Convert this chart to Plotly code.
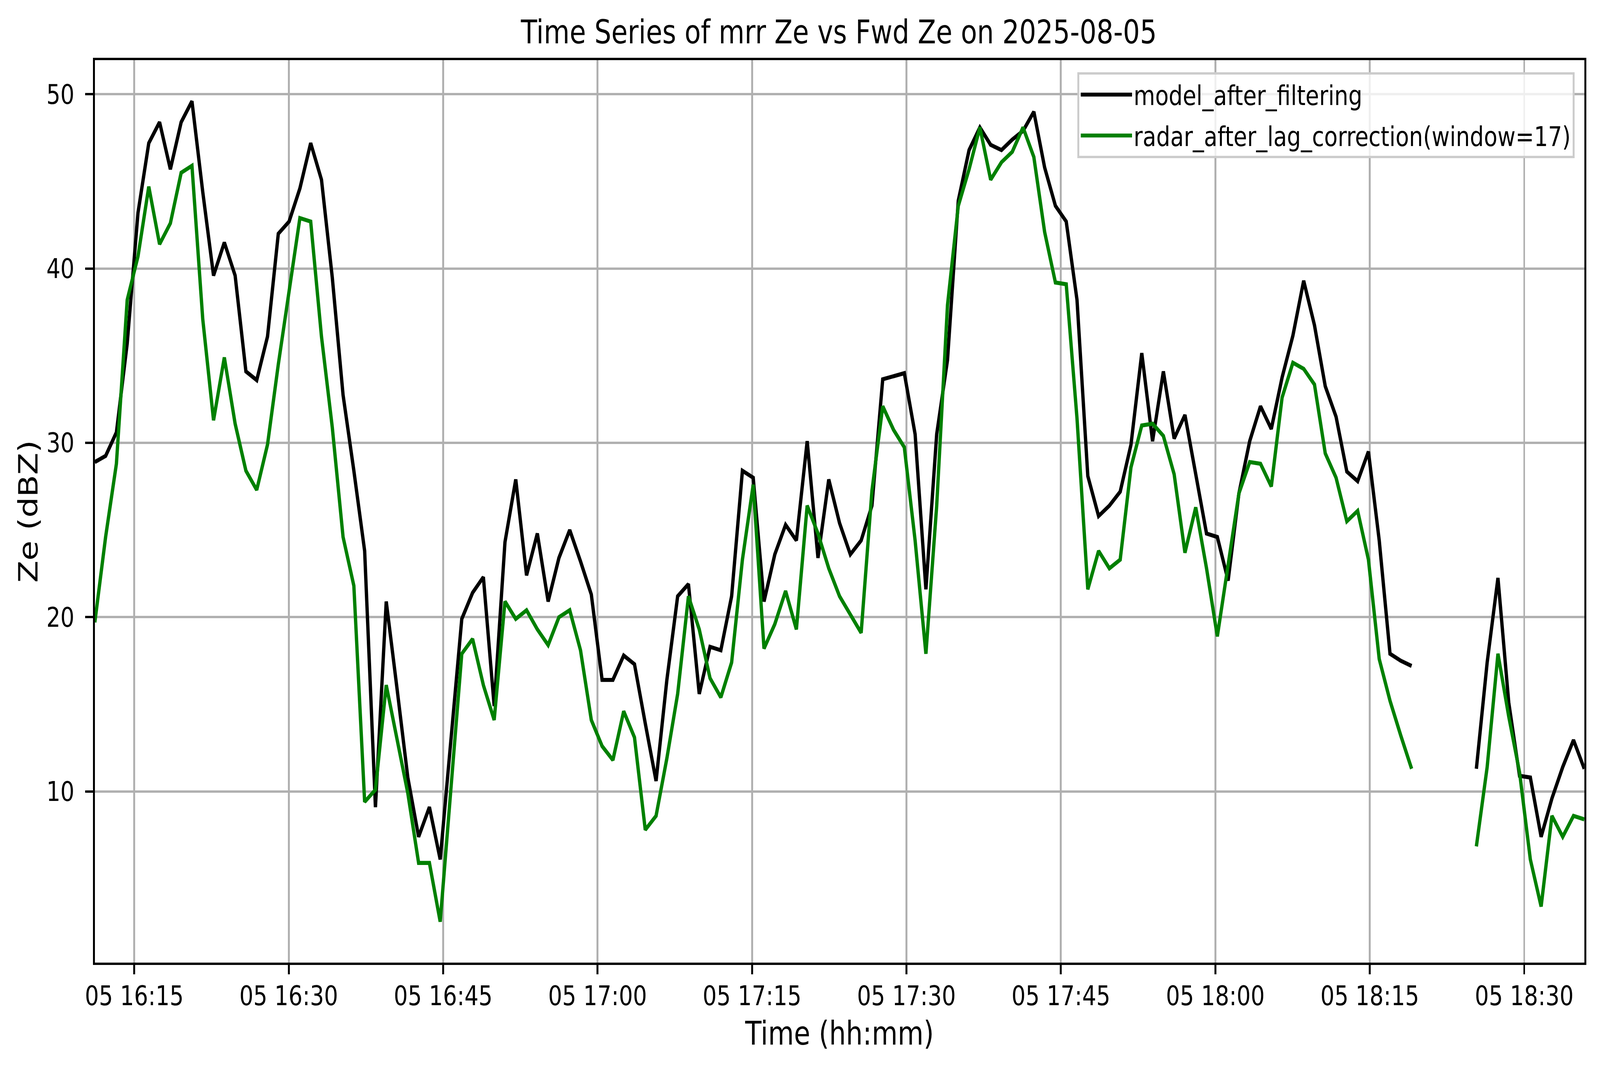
import pandas as pd
import plotly.graph_objects as go

# ---- data ----
start_time = "2025-08-05 16:11:10"
sample_step = "62900ms"
n_samples = 139

model_after_filtering = [
    28.9, 29.25, 30.6, 35.7, 43.2, 47.2, 48.4, 45.7, 48.4, 49.6,
    44.4, 39.6, 41.5, 39.6, 34.1, 33.6, 36.1, 42.0, 42.7, 44.6,
    47.2, 45.1, 39.5, 32.75, 28.4, 23.8, 9.1, 20.9, 15.9, 10.8,
    7.4, 9.1, 6.1, 13.1, 19.9, 21.4, 22.3, 14.9, 24.3, 27.9,
    22.4, 24.8, 20.9, 23.4, 25.0, 23.2, 21.3, 16.4, 16.4, 17.8,
    17.3, 13.9, 10.6, 16.4, 21.2, 21.9, 15.6, 18.3, 18.1, 21.2,
    28.4, 28.0, 20.9, 23.6, 25.3, 24.4, 30.1, 23.4, 27.9, 25.4,
    23.6, 24.4, 26.4, 33.65, 33.8, 34.0, 30.5, 21.6, 30.5, 34.75,
    43.9, 46.8, 48.1, 47.1, 46.8, 47.4, 47.9, 49.0, 45.8, 43.6,
    42.7, 38.2, 28.1, 25.8, 26.4, 27.2, 29.9, 35.15, 30.1, 34.1,
    30.25, 31.6, 28.2, 24.8, 24.6, 22.1, 27.1, 30.1, 32.1, 30.8,
    33.75, 36.15, 39.3, 36.75, 33.25, 31.5, 28.35, 27.8, 29.5, 24.4,
    17.9, 17.5, 17.2, None, None, None, None, None, 11.3, 17.4,
    22.25, 15.1, 10.9, 10.8, 7.4, 9.6, 11.4, 12.95, 11.3,
]

radar_after_lag_correction = [
    19.7, 24.6, 28.8, 38.2, 40.7, 44.7, 41.4, 42.6, 45.5, 45.9,
    37.1, 31.3, 34.9, 31.1, 28.4, 27.3, 29.9, 34.5, 38.7, 42.9,
    42.7, 36.1, 30.9, 24.6, 21.8, 9.4, 10.1, 16.1, 13.0, 9.9,
    5.9, 5.9, 2.53, 10.4, 17.9, 18.75, 16.1, 14.1, 20.9, 19.9,
    20.4, 19.3, 18.4, 20.0, 20.4, 18.1, 14.1, 12.6, 11.8, 14.6,
    13.1, 7.8, 8.6, 11.9, 15.6, 21.2, 19.3, 16.5, 15.4, 17.4,
    23.3, 27.6, 18.2, 19.6, 21.5, 19.3, 26.4, 24.8, 22.8, 21.2,
    20.1, 19.1, 27.25, 32.1, 30.75, 29.75, 24.4, 17.9, 26.4, 37.9,
    43.6, 45.7, 48.1, 45.1, 46.1, 46.7, 48.1, 46.4, 42.1, 39.2,
    39.1, 31.4, 21.6, 23.8, 22.8, 23.3, 28.6, 31.0, 31.1, 30.4,
    28.2, 23.7, 26.3, 22.8, 18.9, 22.95, 27.1, 28.9, 28.8, 27.5,
    32.6, 34.6, 34.25, 33.35, 29.4, 28.0, 25.5, 26.1, 23.3, 17.6,
    15.2, 13.2, 11.3, None, None, None, None, None, 6.85, 11.4,
    17.9, 14.3, 11.1, 6.1, 3.4, 8.6, 7.4, 8.6, 8.4,
]

series_names = ["model_after_filtering", "radar_after_lag_correction(window=17)"]
series_colors = ["#000000", "#008000"]
y_tick_values = [10, 20, 30, 40, 50]
x_tick_start = "2025-08-05 16:15"
x_tick_step_ms = 15 * 60 * 1000

times = pd.date_range(start=start_time, periods=n_samples, freq=sample_step)

# ---- figure ----
W, H = 4995, 2740
FONT = "DejaVu Sans"
fig = go.Figure()
for k, (name, vals, col) in enumerate(zip(series_names,
                                          [model_after_filtering, radar_after_lag_correction],
                                          series_colors)):
    fig.add_trace(go.Scatter(
        x=times, y=vals, mode="lines", name=name,
        line=dict(color=col, width=10.4),
        connectgaps=False,
        legendgroup="g%d" % k,
    ))

axis_common = dict(
    showline=True, linecolor="black", linewidth=5.5, mirror=True,
    ticks="outside", ticklen=24, tickwidth=5.5, tickcolor="black",
    showgrid=True, gridcolor="#b0b0b0", gridwidth=5.5,
    zeroline=False,
    tickfont=dict(family=FONT, size=69, color="black"),
)

fig.update_layout(
    width=W, height=H, autosize=False,
    margin=dict(l=296, r=49, t=154, b=275, pad=0),
    paper_bgcolor="white", plot_bgcolor="white",
    font=dict(family=FONT, color="black"),
    title=dict(
        text="Time Series of mrr Ze vs Fwd Ze on 2025-08-05",
        font=dict(family=FONT, size=83, color="black"),
        x=0.5243, xanchor="center", xref="container",
        y=1 - 111 / H, yanchor="bottom", yref="container",
    ),
    xaxis=dict(
        **axis_common,
        type="date",
        range=[times[0], times[-1]],
        tick0=x_tick_start, dtick=x_tick_step_ms,
        tickformat="%d %H:%M",
        ticklabelstandoff=-4,
        title=dict(text="Time (hh:mm)", font=dict(family=FONT, size=83, color="black"),
                   standoff=30),
    ),
    yaxis=dict(
        **axis_common,
        range=[0.18, 51.96],
        tickvals=y_tick_values,
        ticklabelstandoff=20,
        title=dict(text="Ze (dBZ)", font=dict(family=FONT, size=83, color="black"),
                   standoff=1),
    ),
    legend=dict(
        x=0.99355, y=0.98659, xanchor="right", yanchor="top",
        bgcolor="rgba(255,255,255,0.8)", bordercolor="#cccccc", borderwidth=6,
        font=dict(family=FONT, size=69, color="black"),
        itemwidth=160,
        tracegroupgap=12,
    ),
    showlegend=True,
)

# The browser viewport may be narrower than the requested 4995 px (it is
# clamped), so fit the 4995x2740 figure exactly into whatever viewport exists.
post = (
    "var W=%d,H=%d;"
    "var gd=document.getElementById('{plot_id}');"
    "var vw=window.innerWidth, vh=window.innerHeight;"
    "var sx=vw/W, sy=vh/H;"
    "document.documentElement.style.overflow='hidden';"
    "document.body.style.margin='0';"
    "document.body.style.overflow='hidden';"
    "var p=gd.parentElement;"
    "p.style.width=vw+'px';p.style.height=vh+'px';p.style.overflow='hidden';"
    "gd.style.transformOrigin='0 0';"
    "gd.style.transform='scale('+sx+','+sy+')';" % (W, H)
)
fig.write_html("out.html", post_script=post, config={"displayModeBar": False})
